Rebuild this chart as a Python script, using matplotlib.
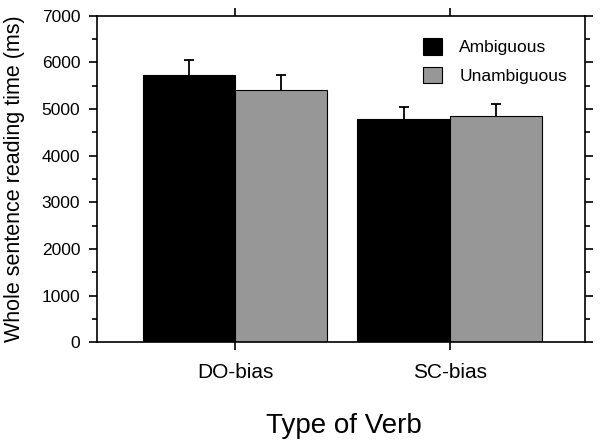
import matplotlib
matplotlib.use('Agg')
import matplotlib.pyplot as plt
import numpy as np

# data
verbs = ['DO-bias', 'SC-bias']
ambiguous = [5730, 4790]
ambiguous_err = [320, 245]
unambiguous = [5405, 4850]
unambiguous_err = [320, 250]

plt.rcParams['font.family'] = ['Liberation Sans', 'DejaVu Sans']

fig = plt.figure(figsize=(6, 4.47), dpi=100)
ax = fig.add_axes([0.1617, 0.2338, 0.8133, 0.7315])

x = np.arange(1, len(verbs) + 1)
w = 0.43
ax.bar(x - w / 2, ambiguous, w, color='black', edgecolor='black', linewidth=0.8,
       label='Ambiguous', zorder=2)
ax.bar(x + w / 2, unambiguous, w, color='#979797', edgecolor='black', linewidth=0.8,
       label='Unambiguous', zorder=2)

# one-sided (upward) error bars, lower cap hidden
for xs, vals, errs in [(x - w / 2, ambiguous, ambiguous_err),
                       (x + w / 2, unambiguous, unambiguous_err)]:
    eb = ax.errorbar(xs, vals, yerr=[np.zeros(len(xs)), errs], fmt='none',
                     ecolor='black', elinewidth=1.3, capsize=3.5, capthick=1.3, zorder=1)
    eb[1][0].set_visible(False)

ax.set_xlim(0.357, 2.63)
ax.set_ylim(0, 7000)
ax.set_xticks(x)
ax.set_xticklabels(verbs, fontsize=15)
ax.set_yticks(np.arange(0, 7001, 1000))
ax.set_yticks(np.arange(500, 7000, 1000), minor=True)
ax.tick_params(axis='y', labelsize=12.5)
ax.tick_params(which='major', direction='out', length=6, width=1.2, top=True, right=True, pad=6)
ax.tick_params(which='minor', direction='out', length=3.5, width=1.2, right=True)
ax.tick_params(axis='x', pad=9)

for s in ax.spines.values():
    s.set_linewidth(1.2)

ax.set_ylabel('Whole sentence reading time (ms)', fontsize=15.5)
ax.yaxis.set_label_coords(-0.148, 0.5)
ax.set_xlabel('Type of Verb', fontsize=20)
ax.xaxis.set_label_coords(0.505, -0.215)

ax.legend(loc='upper left', bbox_to_anchor=(0.705, 0.915), bbox_transform=fig.transFigure,
          frameon=False, fontsize=12.5, handlelength=1.1, handleheight=1.1,
          handletextpad=1.0, labelspacing=0.65, borderpad=0, borderaxespad=0)

plt.savefig('out.png', dpi=100)
